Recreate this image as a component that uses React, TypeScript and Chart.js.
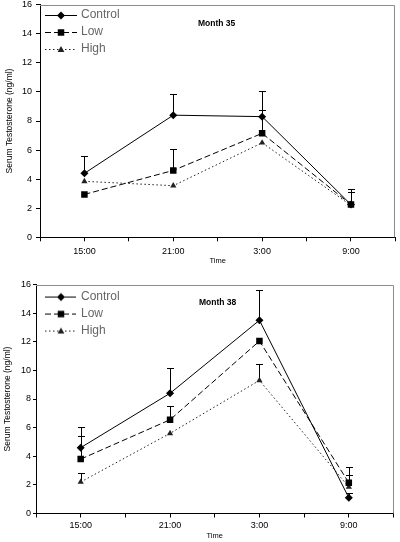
import React, { useEffect, useRef } from "react";
import { Chart, registerables } from "chart.js";

Chart.register(...registerables);

// ---------- data ----------
const timeLabels = ["15:00", "21:00", "3:00", "9:00"];
const seriesNames = ["Control", "Low", "High"];
const yAxisTitle = "Serum Testosterone (ng/ml)";
const xAxisTitle = "Time";
const yMin = 0;
const yMax = 16;
const yStep = 2;

const month35Title = "Month 35";
const m35Control = [4.4, 8.4, 8.3, 2.25];
const m35Low = [2.95, 4.6, 7.15, 2.25];
const m35High = [3.85, 3.55, 6.5, 2.2];
const m35ControlErr = [5.6, 9.85, 10.05, 3.35];
const m35LowErr = [null, 6.1, 8.75, 3.1];
const m35HighErr = [null, null, null, null];

const month38Title = "Month 38";
const m38Control = [4.6, 8.4, 13.5, 1.1];
const m38Low = [3.8, 6.55, 12.05, 2.15];
const m38High = [2.2, 5.6, 9.3, 1.85];
const m38ControlErr = [6.05, 10.15, 15.65, 1.4];
const m38LowErr = [5.4, 7.5, null, 3.25];
const m38HighErr = [2.8, null, 10.45, 2.7];

// ---------- styles ----------
const FONT = '"Liberation Sans", Arial, Helvetica, sans-serif';
const seriesStyles = [
  { dash: [], pointStyle: "rectRot", radius: 4, color: "#000" },
  { dash: [6, 3], pointStyle: "rect", radius: 4.6, color: "#000" },
  { dash: [1.5, 2.5], pointStyle: "triangle", radius: 3.6, color: "#222" },
];

function drawMarker(ctx: CanvasRenderingContext2D, style: string, x: number, y: number, r: number) {
  ctx.beginPath();
  if (style === "rectRot") {
    ctx.moveTo(x - r, y);
    ctx.lineTo(x, y - r);
    ctx.lineTo(x + r, y);
    ctx.lineTo(x, y + r);
  } else if (style === "rect") {
    const s = r * Math.SQRT1_2;
    ctx.rect(x - s, y - s, 2 * s, 2 * s);
  } else {
    const h = r * 1.5;
    ctx.moveTo(x, y - r);
    ctx.lineTo(x + r * 0.95, y + h / 2.2);
    ctx.lineTo(x - r * 0.95, y + h / 2.2);
  }
  ctx.closePath();
  ctx.fill();
}

function makeLegendImage(idx: number, w: number, lineStart: number, lineEnd: number, markerX: number) {
  const c = document.createElement("canvas");
  c.width = w;
  c.height = 12;
  const ctx = c.getContext("2d")!;
  const st = seriesStyles[idx];
  ctx.strokeStyle = st.color;
  ctx.fillStyle = st.color;
  ctx.lineWidth = 1;
  ctx.setLineDash(st.dash);
  ctx.beginPath();
  ctx.moveTo(lineStart, 6.5);
  ctx.lineTo(lineEnd, 6.5);
  ctx.stroke();
  ctx.setLineDash([]);
  drawMarker(ctx, st.pointStyle, markerX, 6.5, st.radius);
  return c;
}

const extrasPlugin = {
  id: "extras",
  beforeDatasetsDraw(chart: any, _args: any, opts: any) {
    const { ctx } = chart;
    const xs = chart.scales.x;
    const ys = chart.scales.y;
    ctx.save();
    ctx.strokeStyle = "#000";
    ctx.lineWidth = 1;
    (opts.errors || []).forEach((errs: (number | null)[], di: number) => {
      const vals = chart.data.datasets[di].data;
      errs.forEach((top, i) => {
        if (top == null) return;
        const px = Math.round(xs.getPixelForValue(i)) + 0.5;
        const py0 = ys.getPixelForValue(vals[i].y);
        const py1 = Math.round(ys.getPixelForValue(top)) + 0.5;
        ctx.beginPath();
        ctx.moveTo(px, py0);
        ctx.lineTo(px, py1);
        ctx.moveTo(px - 3.5, py1);
        ctx.lineTo(px + 3.5, py1);
        ctx.stroke();
      });
    });
    ctx.restore();
  },
  afterDraw(chart: any, _args: any, opts: any) {
    const { ctx, chartArea: a } = chart;
    ctx.save();
    ctx.strokeStyle = "#8c8c8c";
    ctx.lineWidth = 1;
    ctx.beginPath();
    ctx.moveTo(a.left, Math.round(a.top) + 0.5);
    ctx.lineTo(Math.round(a.right) - 0.5, Math.round(a.top) + 0.5);
    ctx.lineTo(Math.round(a.right) - 0.5, a.bottom);
    ctx.stroke();
    ctx.fillStyle = "#000";
    ctx.font = `bold 8.5px ${FONT}`;
    ctx.textBaseline = "middle";
    ctx.textAlign = "left";
    ctx.fillText(opts.title, a.left + opts.titleDx, a.top + opts.titleDy);
    ctx.restore();
  },
};

type Params = {
  height: number;
  series: number[][];
  errors: (number | null)[][];
  title: string;
  titleDx: number;
  titleDy: number;
  pad: { left: number; right: number; top: number; bottom: number };
  xH: number;
  yW: number;
  xTickPad: number;
  yTickPad: number;
  yTickLen: number;
  legendW: number;
  legendImg: { w: number; ls: number; le: number; mx: number };
  legendTitleH: number;
};

function buildConfig(p: Params): any {
  const imgs = seriesNames.map((_, i) =>
    makeLegendImage(i, p.legendImg.w, p.legendImg.ls, p.legendImg.le, p.legendImg.mx)
  );
  return {
    type: "line",
    data: {
      datasets: p.series.map((vals, i) => ({
        label: seriesNames[i],
        data: vals.map((v, k) => ({ x: k, y: v })),
        borderColor: seriesStyles[i].color,
        backgroundColor: seriesStyles[i].color,
        borderWidth: 1,
        borderDash: seriesStyles[i].dash,
        pointStyle: seriesStyles[i].pointStyle,
        pointRadius: seriesStyles[i].radius,
        pointBorderWidth: 0,
        pointBackgroundColor: seriesStyles[i].color,
        tension: 0,
        fill: false,
      })),
    },
    options: {
      responsive: false,
      animation: false,
      events: [],
      layout: { padding: p.pad },
      scales: {
        x: {
          type: "linear",
          min: -0.5,
          max: 3.5,
          afterFit: (s: any) => {
            s.height = p.xH;
            s.paddingLeft = 0;
            s.paddingRight = 0;
          },
          ticks: {
            stepSize: 0.5,
            autoSkip: false,
            maxRotation: 0,
            padding: p.xTickPad,
            color: "#000",
            font: { family: FONT, size: 9 },
            callback: (v: number) => (Number.isInteger(v) && timeLabels[v] ? timeLabels[v] : ""),
          },
          grid: { drawOnChartArea: false, drawTicks: true, tickLength: 4, color: "#000" },
          border: { display: true, color: "#000", width: 1 },
          title: {
            display: true,
            text: xAxisTitle,
            color: "#000",
            padding: 0,
            font: { family: FONT, size: 7.5 },
          },
        },
        y: {
          min: yMin,
          max: yMax,
          afterFit: (s: any) => {
            s.width = p.yW;
            s.paddingTop = 0;
            s.paddingBottom = 0;
          },
          ticks: {
            stepSize: yStep,
            padding: p.yTickPad,
            color: "#000",
            font: { family: FONT, size: 9 },
          },
          grid: { drawOnChartArea: false, drawTicks: true, tickLength: p.yTickLen, color: "#000" },
          border: { display: true, color: "#000", width: 1 },
          title: {
            display: true,
            text: yAxisTitle,
            color: "#000",
            padding: 0,
            font: { family: FONT, size: 8.5 },
          },
        },
      },
      plugins: {
        tooltip: { enabled: false },
        legend: {
          position: "chartArea",
          align: "start",
          title: {
            display: p.legendTitleH > 0,
            text: "",
            padding: { top: p.legendTitleH, bottom: 0 },
            font: { size: 0.0001 },
          },
          labels: {
            usePointStyle: true,
            pointStyleWidth: p.legendW,
            padding: 5,
            color: "#000",
            font: { family: FONT, size: 12 },
            generateLabels: (chart: any) =>
              chart.data.datasets.map((ds: any, i: number) => ({
                text: ds.label,
                pointStyle: imgs[i],
                fillStyle: "#000",
                strokeStyle: "#000",
                lineWidth: 0,
                hidden: false,
                datasetIndex: i,
              })),
          },
        },
        extras: { errors: p.errors, title: p.title, titleDx: p.titleDx, titleDy: p.titleDy },
      },
    },
    plugins: [extrasPlugin],
  };
}

const topParams: Params = {
  height: 270,
  series: [m35Control, m35Low, m35High],
  errors: [m35ControlErr, m35LowErr, m35HighErr],
  title: month35Title,
  titleDx: 158,
  titleDy: 18.6,
  pad: { left: 4.2, right: 1, top: 4.7, bottom: 4.2 },
  xH: 28.5,
  yW: 35.8,
  xTickPad: 5,
  yTickPad: 4,
  yTickLen: 4,
  legendW: 30,
  legendImg: { w: 34, ls: 2, le: 34, mx: 18 },
  legendTitleH: 4,
};

const bottomParams: Params = {
  height: 272,
  series: [m38Control, m38Low, m38High],
  errors: [m38ControlErr, m38LowErr, m38HighErr],
  title: month38Title,
  titleDx: 163,
  titleDy: 18.5,
  pad: { left: 2.7, right: 6.5, top: 14.5, bottom: 1.2 },
  xH: 27.3,
  yW: 33.3,
  xTickPad: 3,
  yTickPad: 2,
  yTickLen: 3,
  legendW: 34,
  legendImg: { w: 36, ls: 5, le: 36, mx: 21 },
  legendTitleH: 15.5,
};

function ChartCanvas({ p }: { p: Params }) {
  const ref = useRef<HTMLCanvasElement | null>(null);
  useEffect(() => {
    if (!ref.current) return;
    const chart = new Chart(ref.current, buildConfig(p));
    return () => chart.destroy();
  }, [p]);
  return <canvas ref={ref} width={400} height={p.height} style={{ display: "block", width: 400, height: p.height }} />;
}

export default function App() {
  return (
    <div style={{ position: "absolute", left: 0, top: 0, width: 400, height: 542, background: "#fff" }}>
      <ChartCanvas p={topParams} />
      <ChartCanvas p={bottomParams} />
    </div>
  );
}
